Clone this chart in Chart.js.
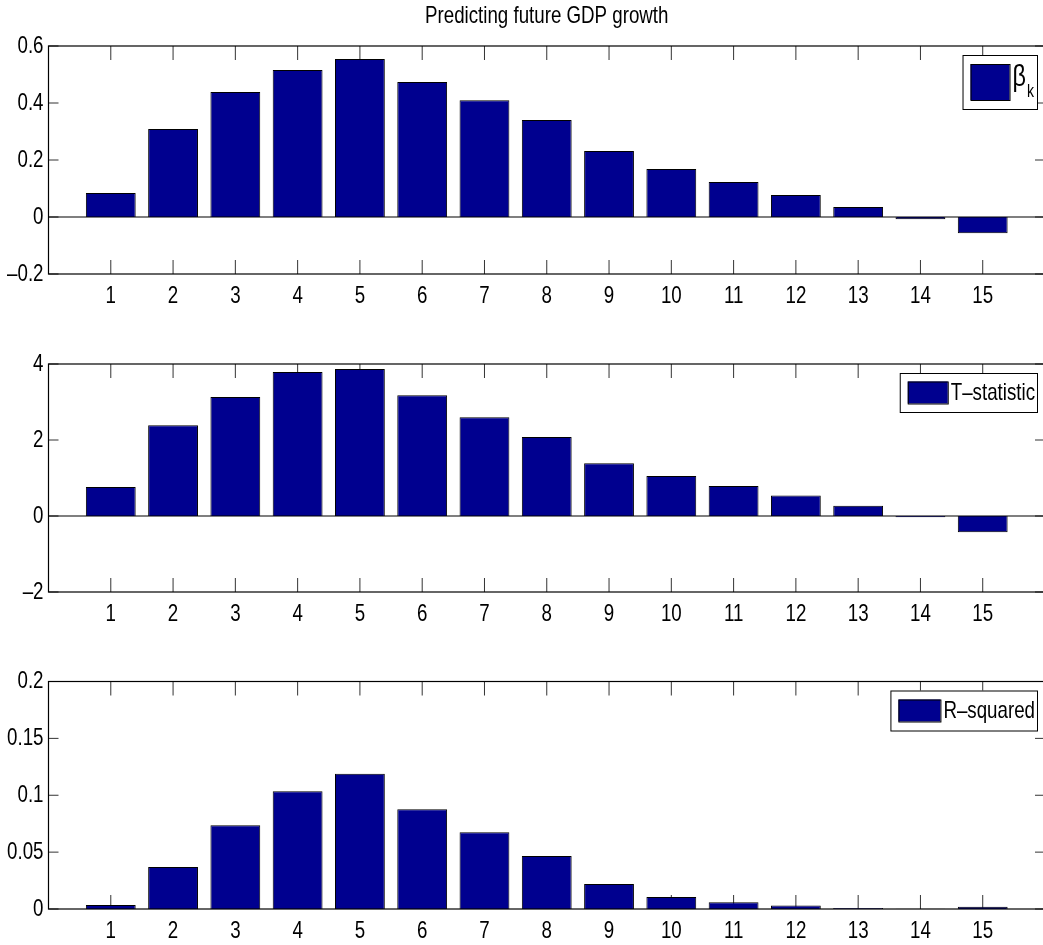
<!DOCTYPE html>
<html><head><meta charset="utf-8">
<script src="https://cdn.jsdelivr.net/npm/chart.js@4.4.1/dist/chart.umd.min.js"></script>
<style>
html,body{margin:0;padding:0;background:#fff;overflow:hidden;width:1043px;height:945px;}
canvas{position:absolute;left:0;}
</style></head><body>
<canvas id="c1" width="1050" height="320" style="top:0px"></canvas>
<canvas id="c2" width="1050" height="318" style="top:320px"></canvas>
<canvas id="c3" width="1050" height="307" style="top:638px"></canvas>
<script>
const FONT = "'Liberation Sans', Arial, sans-serif";
const FONT_SIZE = 24;
const NARROW = 0.78; // horizontal condensing to mimic the narrow Helvetica of the original

const chartTitle = 'Predicting future GDP growth';
const categories = [1, 2, 3, 4, 5, 6, 7, 8, 9, 10, 11, 12, 13, 14, 15];
const xTickLabels = ['1','2','3','4','5','6','7','8','9','10','11','12','13','14','15'];

const betaValues = [0.084, 0.309, 0.439, 0.516, 0.554, 0.474, 0.410, 0.340, 0.232, 0.168, 0.123, 0.077, 0.035, -0.008, -0.057];
const betaTicks = [-0.2, 0, 0.2, 0.4, 0.6];
const betaTickLabels = ['\u20130.2', '0', '0.2', '0.4', '0.6'];

const tstatValues = [0.76, 2.39, 3.13, 3.79, 3.87, 3.18, 2.60, 2.08, 1.39, 1.05, 0.79, 0.54, 0.27, -0.035, -0.43];
const tstatTicks = [-2, 0, 2, 4];
const tstatTickLabels = ['\u20132', '0', '2', '4'];

const rsqValues = [0.0035, 0.037, 0.0737, 0.1035, 0.119, 0.0877, 0.0675, 0.0465, 0.022, 0.0105, 0.006, 0.003, 0.0008, 0.0002, 0.002];
const rsqTicks = [0, 0.05, 0.1, 0.15, 0.2];
const rsqTickLabels = ['0', '0.05', '0.1', '0.15', '0.2'];

const seriesNames = [['\u03B2', 'k'], ['T\u2013statistic', ''], ['R\u2013squared', '']];

const BAR_COLOR = 'rgb(0,0,143)';

// condense all canvas text horizontally (still real text, drawn with fillText)
(function () {
  const orig = CanvasRenderingContext2D.prototype.fillText;
  CanvasRenderingContext2D.prototype.fillText = function (t, x, y, mw) {
    const w = this.measureText(String(t)).width * NARROW;
    const lim = (mw !== undefined && mw !== null) ? Math.min(mw, w) : w;
    return orig.call(this, t, x, y, lim);
  };
})();

function axesPlugin(legend) {
  return {
    id: 'matlabAxes',
    beforeDatasetsDraw(chart) {
      const {ctx, chartArea: a, scales: {x, y}} = chart;
      ctx.save();
      ctx.strokeStyle = '#333';
      ctx.lineWidth = 1;
      ctx.beginPath();
      categories.forEach(c => {
        const px = x.getPixelForValue(c);
        ctx.moveTo(px, a.bottom); ctx.lineTo(px, a.bottom - 14);
        ctx.moveTo(px, a.top); ctx.lineTo(px, a.top + 14);
      });
      y.ticks.forEach(t => {
        const py = y.getPixelForValue(t.value);
        ctx.moveTo(a.left, py); ctx.lineTo(a.left + 10, py);
        ctx.moveTo(a.right, py); ctx.lineTo(a.right - 10, py);
      });
      ctx.stroke();
      ctx.restore();
    },
    afterDatasetsDraw(chart) {
      const {ctx, chartArea: a, scales: {y}} = chart;
      ctx.save();
      ctx.strokeStyle = '#000';
      ctx.lineWidth = 1.2;
      if (y.min < 0) {
        const py = y.getPixelForValue(0);
        ctx.beginPath(); ctx.moveTo(a.left, py); ctx.lineTo(a.right, py); ctx.stroke();
      }
      ctx.strokeRect(a.left, a.top, a.right - a.left, a.bottom - a.top);
      // legend
      const main = legend.name[0], sub = legend.name[1];
      const mainSize = legend.mainSize || FONT_SIZE;
      ctx.font = mainSize + 'px ' + FONT;
      const mainW = ctx.measureText(main).width * NARROW;
      ctx.font = '18px ' + FONT;
      const subW = sub ? ctx.measureText(sub).width * NARROW + 1 : 0;
      const textW = mainW + subW;
      const boxRight = a.right - 8;
      const boxTop = a.top + 9;
      const boxLeft = boxRight - legend.padR - textW - 3 - legend.patchW - 8;
      const boxH = legend.boxH;
      ctx.fillStyle = '#fff';
      ctx.fillRect(boxLeft, boxTop, boxRight - boxLeft, boxH);
      ctx.lineWidth = 1;
      ctx.strokeRect(boxLeft + 0.5, boxTop + 0.5, boxRight - boxLeft, boxH);
      const pTop = boxTop + (boxH - legend.patchH) / 2;
      ctx.fillStyle = BAR_COLOR;
      ctx.fillRect(boxLeft + 8, pTop, legend.patchW, legend.patchH);
      ctx.strokeStyle = '#000';
      ctx.strokeRect(boxLeft + 8.5, pTop + 0.5, legend.patchW, legend.patchH);
      ctx.fillStyle = '#000';
      ctx.textBaseline = 'middle';
      ctx.textAlign = 'left';
      ctx.font = mainSize + 'px ' + FONT;
      const tx = boxLeft + 8 + legend.patchW + 3;
      const cy = boxTop + boxH / 2 + (sub ? -4 : 1);
      ctx.fillText(main, tx, cy);
      if (sub) {
        ctx.font = '18px ' + FONT;
        ctx.fillText(sub, tx + mainW + 1, cy + 14);
      }
      ctx.restore();
    }
  };
}

function makePanel(id, values, yTicks, yLabels, legend, padTop, xAxisH, withTitle) {
  const ctx = document.getElementById(id);
  return new Chart(ctx, {
    type: 'bar',
    data: {
      datasets: [{
        data: categories.map((c, i) => ({x: c, y: values[i]})),
        backgroundColor: BAR_COLOR,
        borderColor: '#000',
        borderWidth: 1,
        barPercentage: 0.8,
        categoryPercentage: 1.0
      }]
    },
    options: {
      responsive: false,
      animation: false,
      devicePixelRatio: 1,
      layout: {padding: {top: withTitle ? 0 : padTop, right: 5, bottom: 0, left: 0}},
      plugins: {
        legend: {display: false},
        tooltip: {enabled: false},
        title: withTitle ? {
          display: true,
          text: chartTitle,
          fullSize: false,
          color: '#000',
          font: {family: FONT, size: FONT_SIZE, weight: 'normal', lineHeight: 1.2},
          padding: {top: 2, bottom: padTop - 2 - FONT_SIZE * 1.2}
        } : {display: false}
      },
      scales: {
        x: {
          type: 'linear',
          min: 0, max: 16,
          offset: false,
          grid: {display: false, drawTicks: false, offset: false},
          border: {display: false},
          afterBuildTicks: s => { s.ticks = categories.map(v => ({value: v})); },
          afterFit: s => { s.height = xAxisH; },
          ticks: {
            autoSkip: false, maxRotation: 0, padding: 8, color: '#000',
            font: {family: FONT, size: FONT_SIZE},
            callback: (v) => xTickLabels[categories.indexOf(v)] ?? ''
          }
        },
        y: {
          min: yTicks[0], max: yTicks[yTicks.length - 1],
          grid: {display: false, drawTicks: false},
          border: {display: false},
          afterBuildTicks: s => { s.ticks = yTicks.map(v => ({value: v})); },
          afterFit: s => { s.width = 48.5; },
          ticks: {
            padding: 5, color: '#000',
            font: {family: FONT, size: FONT_SIZE},
            callback: (v) => { const i = yTicks.findIndex(t => Math.abs(t - v) < 1e-9); return i >= 0 ? yLabels[i] : ''; }
          }
        }
      }
    },
    plugins: [axesPlugin(legend)]
  });
}

makePanel('c1', betaValues, betaTicks, betaTickLabels, {name: seriesNames[0], patchW: 39, patchH: 36, boxH: 54, padR: 3, mainSize: 30}, 46, 46, true);
makePanel('c2', tstatValues, tstatTicks, tstatTickLabels, {name: seriesNames[1], patchW: 40, patchH: 22, boxH: 39, padR: 2}, 44, 46, false);
makePanel('c3', rsqValues, rsqTicks, rsqTickLabels, {name: seriesNames[2], patchW: 42, patchH: 22, boxH: 40, padR: 2}, 43.5, 36, false);
</script>
</body></html>
